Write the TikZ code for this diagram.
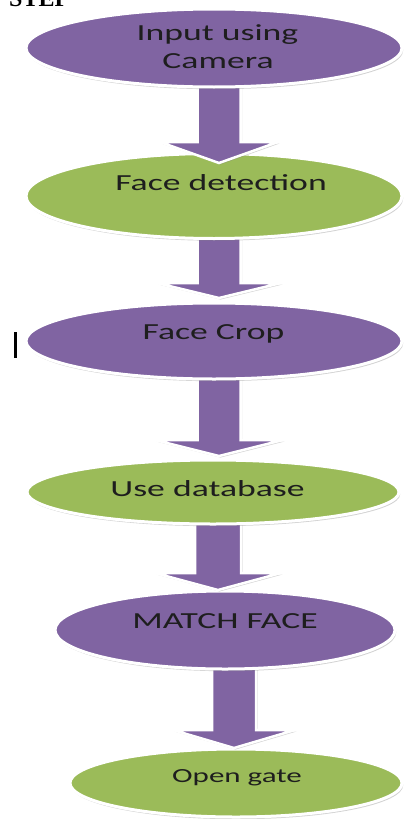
\documentclass[tikz,border=0pt]{standalone}
\usepackage{fontspec}
\setmainfont{Carlito}[FakeStretch=1.55]
\newfontfamily\stepfont{Liberation Serif}
\usetikzlibrary{shapes.geometric,shadows}
\definecolor{ofpurple}{RGB}{128,100,162}
\definecolor{ofgreen}{RGB}{155,187,89}
\definecolor{txt}{RGB}{30,30,30}
\tikzset{
  stage/.style={ellipse, draw=white, line width=3pt, inner sep=0pt,
    drop shadow={shadow xshift=1.2pt, shadow yshift=-2.2pt, fill=gray, opacity=0.35}},
  pstage/.style={stage, fill=ofpurple},
  gstage/.style={stage, fill=ofgreen},
  lbl/.style={anchor=base, inner sep=0pt, text=txt, font=\fontsize{23}{26}\selectfont},
  barrowstyle/.style={draw=white, line width=2.5pt, fill=ofpurple, line join=miter,
    drop shadow={shadow xshift=1.5pt, shadow yshift=-1.5pt, fill=gray, opacity=0.35}}
}
\newcommand{\blockarr}[6]{%
  \draw[barrowstyle] ({#1-#2},#4) -- ({#1+#2},#4) -- ({#1+#2},#5) -- ({#1+#3},#5)
    -- (#1,#6) -- ({#1-#3},#5) -- ({#1-#2},#5) -- cycle;}
\begin{document}
\begin{tikzpicture}[x=1pt,y=-1pt]
\useasboundingbox (0,0) rectangle (404,819);
\fill[white] (0,0) rectangle (404,819);
% title fragment
\node[anchor=base west, inner sep=0pt, font=\stepfont\bfseries\fontsize{24}{26}\selectfont] (step) at (9,6) {STEP};
% stages from bottom to top, arrows interleaved
\node[gstage, minimum width=332, minimum height=68] (e6) at (236,783) {};
\blockarr{234}{22}{61}{660}{730}{748}
\node[pstage, minimum width=340, minimum height=78] (e5) at (225,630) {};
\blockarr{218}{23}{63}{515}{573}{590}
\node[gstage, minimum width=372, minimum height=64] (e4) at (213,492) {};
\blockarr{219}{21.5}{64}{370}{440}{456}
\node[pstage, minimum width=376, minimum height=76] (e3) at (214,341) {};
\blockarr{219}{21.5}{62}{230}{283}{298}
\node[gstage, minimum width=376, minimum height=85] (e2) at (214,196) {};
\blockarr{219}{21.5}{59}{80}{142}{163}
\node[pstage, minimum width=376, minimum height=78] (e1) at (214,48) {};
% labels
\node[lbl] (t1a) at (217.5,40) {Input using};
\node[lbl] (t1b) at (218,68) {Camera};
\node[lbl] (t2) at (221,190) {Face detection};
\node[lbl] (t3) at (213.5,339) {Face Crop};
\node[lbl] (t4) at (207.5,496) {Use database};
\node[lbl] (t5) at (225,628) {MATCH FACE};
\node[lbl, font=\fontsize{20}{24}\selectfont] (t6) at (237,782) {Open gate};
% text cursor mark
\draw[line width=2.5pt, black] (15.5,332) -- (15.5,358);
\end{tikzpicture}
\end{document}
